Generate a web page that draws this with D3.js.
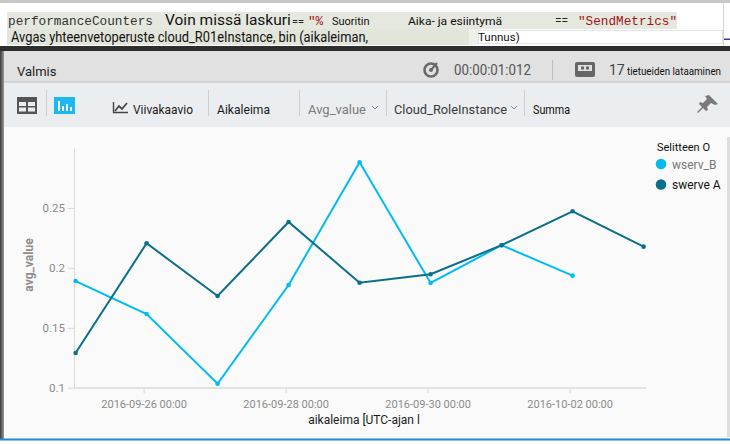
<!DOCTYPE html>
<html>
<head>
<meta charset="utf-8">
<script src="https://cdn.jsdelivr.net/npm/d3@7"></script>
<style>
  html, body { margin: 0; padding: 0; background: #fff; }
  svg { display: block; font-family: Roboto, "Noto Sans", sans-serif; }
</style>
</head>
<body>
<svg id="chart" width="730" height="444"></svg>
<script>
// values
const times = ["2016-09-25T01:00Z", "2016-09-26T01:00Z", "2016-09-27T01:00Z", "2016-09-28T01:00Z",
  "2016-09-29T01:00Z", "2016-09-30T01:00Z", "2016-10-01T01:00Z", "2016-10-02T01:00Z", "2016-10-03T01:00Z"];
const wservB = [0.189, 0.1615, 0.1033, 0.1857, 0.2881, 0.1874, 0.2189, 0.1935, null];
const swerveA = [0.129, 0.2205, 0.1765, 0.2383, 0.1876, 0.1947, 0.2189, 0.2472, 0.2177];
const seriesNames = ["wserv_B", "swerve A"];
const seriesColors = ["#00bcf2", "#0a6f8a"];
const xTickDates = ["2016-09-26T00:00Z", "2016-09-28T00:00Z", "2016-09-30T00:00Z", "2016-10-02T00:00Z"];
const yTickValues = [0.1, 0.15, 0.2, 0.25];

const svg = d3.select("#chart");
const W = 730, H = 444;

// ---------- query editor strip ----------
svg.append("rect").attr("width", W).attr("height", H).attr("fill", "#fff");
svg.append("rect").attr("width", W).attr("height", 3).attr("fill", "#c8c8c8");
svg.append("rect").attr("x", 7).attr("y", 12).attr("width", 670).attr("height", 17).attr("fill", "#e5e8de");
svg.append("rect").attr("x", 7).attr("y", 29).attr("width", 462).attr("height", 16).attr("fill", "#e2e5da");
svg.append("rect").attr("x", 469).attr("y", 29).attr("width", 9).attr("height", 16).attr("fill", "#eef0ea");
svg.append("rect").attr("x", 478.5).attr("y", 30.5).attr("width", 244).attr("height", 13)
  .attr("fill", "#fff").attr("stroke", "#e4e4e4");
svg.append("line").attr("x1", 723.5).attr("x2", 723.5).attr("y1", 3).attr("y2", 46).attr("stroke", "#d4d4d4");
svg.append("rect").attr("x", 724).attr("y", 38.5).attr("width", 6).attr("height", 1.5).attr("fill", "#3b3b8f");

const mono = "'Liberation Mono', 'DejaVu Sans Mono', monospace";
const code1 = [
  { t: "performanceCounters", x: 8, size: 12.7, fam: mono, fill: "#333", len: 145 },
  { t: "Voin missä laskuri", x: 165, size: 15.5, fill: "#111" },
  { t: "==", x: 292, size: 11, fill: "#222" },
  { t: "\"%", x: 308, size: 12.7, fam: mono, fill: "#a31515" },
  { t: "Suoritin", x: 332, size: 11, fill: "#111" },
  { t: "Aika- ja esiintymä", x: 408, size: 11, fill: "#111", len: 94 },
  { t: "==", x: 555, size: 12, fill: "#222" },
  { t: "\"SendMetrics\"", x: 578, size: 12.7, fam: mono, fill: "#a31515", len: 99 }
];
code1.forEach(d => {
  const t = svg.append("text").attr("x", d.x).attr("y", 25).text(d.t)
    .attr("font-size", d.size).attr("fill", d.fill);
  if (d.fam) t.attr("font-family", d.fam);
  if (d.len) t.attr("textLength", d.len).attr("lengthAdjust", "spacingAndGlyphs");
});
svg.append("text").attr("x", 11).attr("y", 42).attr("font-size", 15).attr("fill", "#111")
  .attr("textLength", 357).attr("lengthAdjust", "spacingAndGlyphs")
  .text("Avgas yhteenvetoperuste cloud_R01eInstance, bin (aikaleiman,");
svg.append("text").attr("x", 478).attr("y", 41).attr("font-size", 11.5).attr("fill", "#111").text("Tunnus)");

// ---------- status bar ----------
svg.append("rect").attr("y", 46).attr("width", W).attr("height", 5).attr("fill", "#2e2e2e");
svg.append("rect").attr("y", 51).attr("width", W).attr("height", 30).attr("fill", "#e1e1e1");
svg.append("text").attr("x", 17).attr("y", 76).attr("font-size", 13).attr("fill", "#222").text("Valmis");

const timer = svg.append("g").attr("transform", "translate(431,70)");
timer.append("circle").attr("r", 6.5).attr("fill", "none").attr("stroke", "#6a6a6a").attr("stroke-width", 2.6);
timer.append("circle").attr("r", 2).attr("fill", "#6a6a6a");
timer.append("line").attr("x1", 0).attr("y1", 0).attr("x2", 6).attr("y2", -7)
  .attr("stroke", "#6a6a6a").attr("stroke-width", 2.2);
svg.append("text").attr("x", 454).attr("y", 75).attr("font-size", 14).attr("fill", "#555")
  .attr("textLength", 77).attr("lengthAdjust", "spacingAndGlyphs").text("00:00:01:012");
svg.append("line").attr("x1", 552.5).attr("x2", 552.5).attr("y1", 60).attr("y2", 80).attr("stroke", "#bdbdbd");
const rec = svg.append("g").attr("transform", "translate(575,62)");
rec.append("rect").attr("width", 20).attr("height", 15).attr("rx", 2).attr("fill", "#666");
rec.append("rect").attr("x", 3).attr("y", 3).attr("width", 14).attr("height", 6).attr("fill", "#e1e1e1");
rec.append("rect").attr("x", 6).attr("y", 4.5).attr("width", 3).attr("height", 3).attr("fill", "#666");
rec.append("rect").attr("x", 11).attr("y", 4.5).attr("width", 3).attr("height", 3).attr("fill", "#666");
svg.append("text").attr("x", 609).attr("y", 75).attr("font-size", 14).attr("fill", "#444").text("17");
svg.append("text").attr("x", 627).attr("y", 75).attr("font-size", 10.5).attr("fill", "#111")
  .attr("textLength", 94).attr("lengthAdjust", "spacingAndGlyphs").text("tietueiden lataaminen");

// ---------- toolbar ----------
svg.append("rect").attr("y", 81).attr("width", W).attr("height", 2).attr("fill", "#d3d3d3");
svg.append("rect").attr("y", 83).attr("width", W).attr("height", 44).attr("fill", "#ebeef0");

const tbl = svg.append("g").attr("transform", "translate(17,97)");
tbl.append("rect").attr("width", 20).attr("height", 17).attr("fill", "#555");
[[2, 5, 7, 4], [11, 5, 7, 4], [2, 10.5, 7, 4], [11, 10.5, 7, 4]].forEach(c =>
  tbl.append("rect").attr("x", c[0]).attr("y", c[1]).attr("width", c[2]).attr("height", c[3]).attr("fill", "#ebeef0"));
const bars = svg.append("g").attr("transform", "translate(54,97)");
bars.append("rect").attr("width", 21).attr("height", 17).attr("fill", "#1ab9ef");
[[4, 4, 10], [8, 9, 5], [12, 7, 7], [16, 10, 4]].forEach(b =>
  bars.append("rect").attr("x", b[0]).attr("y", b[1]).attr("width", 2).attr("height", b[2]).attr("fill", "#fff"));
const lic = svg.append("g").attr("transform", "translate(113,102)");
lic.append("path").attr("d", "M0.5,0 V10.5 H15").attr("fill", "none").attr("stroke", "#444").attr("stroke-width", 1.4);
lic.append("path").attr("d", "M2,9 L6,4 L9,7 L14,1").attr("fill", "none").attr("stroke", "#444").attr("stroke-width", 1.8);

[46, 208, 299, 386, 524].forEach(x =>
  svg.append("line").attr("x1", x + 0.5).attr("x2", x + 0.5).attr("y1", 90).attr("y2", 116).attr("stroke", "#cfcfcf"));

const tools = [
  { t: "Viivakaavio", x: 133, fill: "#1a1a1a", len: 60 },
  { t: "Aikaleima", x: 217, fill: "#1a1a1a", len: 53 },
  { t: "Avg_value", x: 308, fill: "#7a7a7a", len: 58 },
  { t: "Cloud_RoleInstance", x: 394, fill: "#3a3a3a", len: 113 },
  { t: "Summa", x: 533, fill: "#111", len: 37, size: 12 }
];
tools.forEach(d => svg.append("text").attr("x", d.x).attr("y", 114).attr("font-size", d.size || 13.5)
  .attr("fill", d.fill).attr("textLength", d.len).attr("lengthAdjust", "spacingAndGlyphs").text(d.t));
[372, 511].forEach(x => svg.append("path").attr("d", `M${x},106 l3,3 l3,-3`)
  .attr("fill", "none").attr("stroke", "#888").attr("stroke-width", 1));
svg.append("path")
  .attr("d", "M709,95 L718,104 L715,105 L711,103 L707,107 L708,110 L706,111 L703,108 L698,113 L697,112 L702,107 L699,104 L700,102 L703,103 L707,99 L705,96 Z")
  .attr("fill", "#7a7a7a");

// ---------- chart area ----------
svg.append("rect").attr("y", 127).attr("width", W).attr("height", 312).attr("fill", "#fafafa");
const grad = svg.append("defs").append("linearGradient").attr("id", "edge");
grad.append("stop").attr("offset", 0).attr("stop-color", "#3a3a3a");
grad.append("stop").attr("offset", 1).attr("stop-color", "#9a9a9a");
svg.append("rect").attr("y", 51).attr("width", 4).attr("height", 388).attr("fill", "url(#edge)");
svg.append("rect").attr("x", 727).attr("y", 137).attr("width", 3).attr("height", 300).attr("fill", "#dedede");
svg.append("rect").attr("y", 438.5).attr("width", W).attr("height", 2).attr("fill", "#1f8ad8");

const parse = d3.isoParse;
const x = d3.scaleUtc().domain([parse(times[0]), parse(times[times.length - 1])]).range([75.6, 643.6]);
const y = d3.scaleLinear().domain([0.1, 0.3]).range([387.7, 148]);

const xAxis = svg.append("g").attr("transform", "translate(0,388)")
  .call(d3.axisBottom(x).tickValues(xTickDates.map(parse)).tickFormat(d3.utcFormat("%Y-%m-%d %H:%M"))
    .tickSize(5).tickSizeOuter(0));
xAxis.select(".domain").remove();
xAxis.append("line").attr("x1", 74).attr("x2", 646).attr("stroke", "#e2e2e2").attr("stroke-width", 2);
xAxis.selectAll(".tick line").attr("stroke", "#d6d6d6");
xAxis.selectAll(".tick text").attr("fill", "#8a8a8a").attr("font-size", 11).attr("dy", "1.05em")
  .attr("font-family", "Roboto, sans-serif");

const yAxis = svg.append("g").attr("transform", "translate(74,0)")
  .call(d3.axisLeft(y).tickValues(yTickValues).tickFormat(d3.format("")).tickSize(6).tickSizeOuter(0));
yAxis.select(".domain").attr("stroke", "#dcdcdc");
yAxis.selectAll(".tick line").attr("stroke", "#d6d6d6");
yAxis.selectAll(".tick text").attr("fill", "#8a8a8a").attr("font-size", 11.5).attr("x", -9)
  .attr("font-family", "Roboto, sans-serif");

svg.append("text").attr("transform", "translate(33,265) rotate(-90)").attr("text-anchor", "middle")
  .attr("font-size", 12).attr("font-weight", "bold").attr("fill", "#8c8c8c").text("avg_value");
svg.append("text").attr("x", 364).attr("y", 424).attr("text-anchor", "middle")
  .attr("font-size", 12).attr("fill", "#1a1a1a").text("aikaleima [UTC-ajan l");

const series = [wservB, swerveA].map((vals, i) => ({
  name: seriesNames[i], color: seriesColors[i],
  points: vals.map((v, j) => ({ t: parse(times[j]), v })).filter(p => p.v != null)
}));

const line = d3.line().x(d => x(d.t)).y(d => y(d.v));
series.forEach(s => {
  svg.append("path").datum(s.points).attr("d", line).attr("fill", "none")
    .attr("stroke", s.color).attr("stroke-width", 2).attr("stroke-linejoin", "miter");
  svg.append("g").selectAll("circle").data(s.points).join("circle")
    .attr("cx", d => x(d.t)).attr("cy", d => y(d.v)).attr("r", 2.3).attr("fill", s.color);
});

// legend
svg.append("text").attr("x", 657).attr("y", 150.5).attr("font-size", 11).attr("fill", "#111").text("Selitteen O");
const leg = svg.append("g").selectAll("g").data(series).join("g")
  .attr("transform", (d, i) => `translate(661,${164 + i * 20.5})`);
leg.append("circle").attr("r", 5.3).attr("fill", d => d.color);
leg.append("text").attr("x", 11).attr("y", 4.5).attr("font-size", 12)
  .attr("fill", (d, i) => i === 0 ? "#777" : "#111").text(d => d.name);
</script>
</body>
</html>
